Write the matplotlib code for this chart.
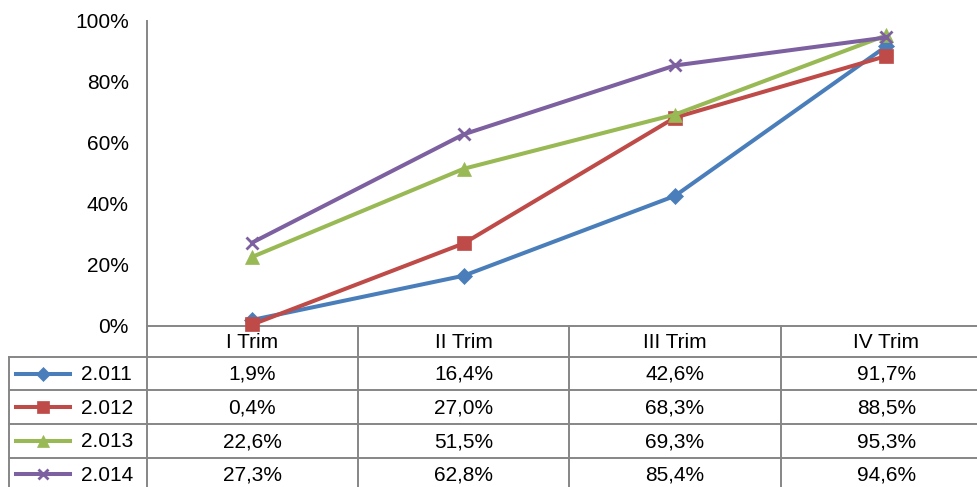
import matplotlib
matplotlib.use("Agg")
import matplotlib.pyplot as plt
from matplotlib.lines import Line2D

plt.rcParams['font.family'] = ['Liberation Sans', 'DejaVu Sans']

categories = ["I Trim", "II Trim", "III Trim", "IV Trim"]
series_names = ["2.011", "2.012", "2.013", "2.014"]
v2011 = [1.9, 16.4, 42.6, 91.7]
v2012 = [0.4, 27.0, 68.3, 88.5]
v2013 = [22.6, 51.5, 69.3, 95.3]
v2014 = [27.3, 62.8, 85.4, 94.6]
series_values = [v2011, v2012, v2013, v2014]
yticks = [0, 20, 40, 60, 80, 100]

colors = ["#4A7EBB", "#BE4B48", "#98B954", "#7D60A0"]
markers = ["D", "s", "^", "x"]
msizes = [8, 10.5, 9.5, 9]
FS = 15

W, H = 978, 487
fig = plt.figure(figsize=(W / 100, H / 100), dpi=100)

def fx(px):
    return px / W

def fy(py):
    return 1 - py / H

grid_c = "#868686"
ax_left, ax_right = 146.7, 146.7 + 4 * 211.3
ax_top, ax_bot = 21.0, 325.7
ax = fig.add_axes([fx(ax_left), fy(ax_bot), fx(ax_right - ax_left), (ax_bot - ax_top) / H])
ax.set_xlim(-0.5, len(categories) - 0.5)
ax.set_ylim(0, 100)
for s in ["top", "right"]:
    ax.spines[s].set_visible(False)
for s in ["left", "bottom"]:
    ax.spines[s].set_color(grid_c)
    ax.spines[s].set_linewidth(1.4)
ax.set_xticks([])
ax.set_yticks(yticks)
ax.set_yticklabels([f"{t}%" for t in yticks], fontsize=FS)
ax.tick_params(axis="y", length=0, pad=13)
ax.patch.set_alpha(0)

xs = list(range(len(categories)))
for vals, c, m, ms in zip(series_values, colors, markers, msizes):
    ax.plot(xs, vals, color=c, lw=2.9, marker=m, markersize=ms,
            markeredgewidth=2 if m == "x" else 0.5, markeredgecolor=c,
            clip_on=False, zorder=3)

# Data table
col_w = 211.3
left_border = 9.3
header_top, header_bot = 325.7, 356.7
row_h = 33.6
n_rows = len(series_names)
row_tops = [header_bot + i * row_h for i in range(n_rows + 1)]
lw = 1.4

def hline(x0, x1, y):
    fig.add_artist(Line2D([fx(x0), fx(x1)], [fy(y), fy(y)], color=grid_c, lw=lw))

def vline(x, y0, y1):
    fig.add_artist(Line2D([fx(x), fx(x)], [fy(y0), fy(y1)], color=grid_c, lw=lw))

for y in row_tops:
    hline(left_border, W + 5, y)
vline(left_border, header_bot, H + 5)
for k in range(len(categories) + 1):
    vline(ax_left + k * col_w, header_top, H + 5)

for k, cat in enumerate(categories):
    fig.text(fx(ax_left + (k + 0.5) * col_w), fy((header_top + header_bot) / 2 + 1), cat,
             ha="center", va="center", fontsize=FS)

for i, (name, vals, c, m, ms) in enumerate(zip(series_names, series_values, colors, markers, msizes)):
    yc = row_tops[i] + row_h / 2
    fig.add_artist(Line2D([fx(16), fx(70)], [fy(yc), fy(yc)], color=c, lw=2.9))
    fig.add_artist(Line2D([fx(43)], [fy(yc)], color=c, marker=m, markersize=ms * 0.85,
                          markeredgewidth=2 if m == "x" else 0.5, markeredgecolor=c))
    fig.text(fx(81), fy(yc + 1), name, ha="left", va="center", fontsize=FS)
    for k, v in enumerate(vals):
        fig.text(fx(ax_left + (k + 0.5) * col_w), fy(yc + 1), f"{v:.1f}%".replace(".", ","),
                 ha="center", va="center", fontsize=FS)

fig.savefig("out.png", dpi=100)
